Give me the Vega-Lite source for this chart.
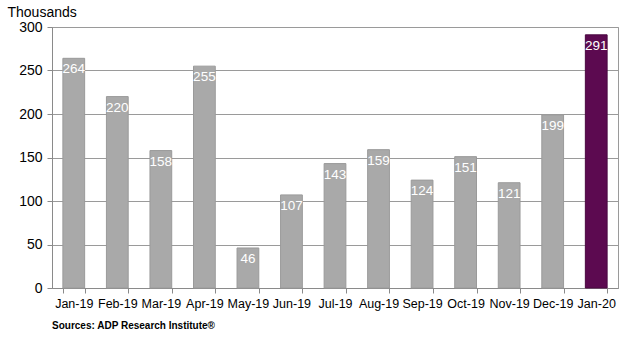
{
  "$schema": "https://vega.github.io/schema/vega-lite/v6.json",
  "width": 566,
  "height": 261,
  "autosize": {"type": "none"},
  "padding": {"left": 52, "top": 27, "right": 12, "bottom": 53},
  "background": "white",
  "config": {
    "font": "Liberation Sans",
    "view": {"stroke": "#9a9a9a", "strokeWidth": 1}
  },
  "title": {
    "text": "Sources: ADP Research Institute®",
    "orient": "bottom",
    "anchor": "start",
    "frame": "group",
    "fontSize": 10,
    "fontWeight": "bold",
    "color": "#000000",
    "offset": 11
  },
  "data": {
    "values": [
      {"month": "Jan-19", "value": 264, "highlight": "n"},
      {"month": "Feb-19", "value": 220, "highlight": "n"},
      {"month": "Mar-19", "value": 158, "highlight": "n"},
      {"month": "Apr-19", "value": 255, "highlight": "n"},
      {"month": "May-19", "value": 46, "highlight": "n"},
      {"month": "Jun-19", "value": 107, "highlight": "n"},
      {"month": "Jul-19", "value": 143, "highlight": "n"},
      {"month": "Aug-19", "value": 159, "highlight": "n"},
      {"month": "Sep-19", "value": 124, "highlight": "n"},
      {"month": "Oct-19", "value": 151, "highlight": "n"},
      {"month": "Nov-19", "value": 121, "highlight": "n"},
      {"month": "Dec-19", "value": 199, "highlight": "n"},
      {"month": "Jan-20", "value": 291, "highlight": "y"}
    ]
  },
  "encoding": {
    "x": {
      "field": "month",
      "type": "nominal",
      "sort": null,
      "scale": {"paddingInner": 0.5, "paddingOuter": 0.25},
      "axis": {
        "title": null,
        "labelAngle": 0,
        "labelFontSize": 12.5,
        "labelColor": "#000000",
        "labelPadding": 4,
        "tickBand": "extent",
        "tickColor": "#8a8a8a",
        "tickSize": 5,
        "domainColor": "#8a8a8a"
      }
    },
    "y": {
      "field": "value",
      "type": "quantitative",
      "scale": {"domain": [0, 300]},
      "axis": {
        "values": [0, 50, 100, 150, 200, 250, 300],
        "title": "Thousands",
        "titleAngle": 0,
        "titleAlign": "left",
        "titleBaseline": "alphabetic",
        "titleX": -45,
        "titleY": -11,
        "titleFontSize": 14,
        "titleFontWeight": "normal",
        "titleColor": "#000000",
        "labelFontSize": 14,
        "labelColor": "#000000",
        "labelPadding": 5,
        "tickColor": "#8a8a8a",
        "tickSize": 5,
        "domainColor": "#8a8a8a",
        "gridColor": "#9a9a9a",
        "gridOpacity": 1
      }
    }
  },
  "layer": [
    {
      "mark": {"type": "bar", "strokeWidth": 1},
      "encoding": {
        "color": {
          "field": "highlight",
          "type": "nominal",
          "scale": {"domain": ["n", "y"], "range": ["#a9a9a9", "#5c0a50"]},
          "legend": null
        },
        "stroke": {
          "field": "highlight",
          "type": "nominal",
          "scale": {"domain": ["n", "y"], "range": ["#9a9a9a", "#4a0840"]},
          "legend": null
        }
      }
    },
    {
      "mark": {"type": "text", "baseline": "top", "dy": 4, "fontSize": 13.5, "color": "white"},
      "encoding": {"text": {"field": "value", "type": "quantitative"}}
    }
  ]
}
